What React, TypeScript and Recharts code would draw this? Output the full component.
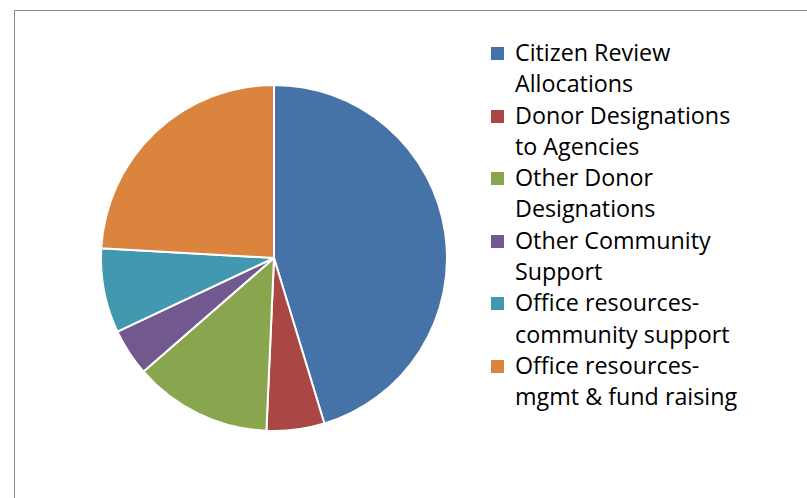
import { PieChart, Pie, Cell } from "recharts";

const categories = [
  "Citizen Review Allocations",
  "Donor Designations to Agencies",
  "Other Donor Designations",
  "Other Community Support",
  "Office resources- community support",
  "Office resources- mgmt & fund raising",
];

// legend text is wrapped onto two lines like the original
const legendLines = [
  ["Citizen Review", "Allocations"],
  ["Donor Designations", "to Agencies"],
  ["Other Donor", "Designations"],
  ["Other Community", "Support"],
  ["Office resources-", "community support"],
  ["Office resources-", "mgmt & fund raising"],
];

const shares = [45.3, 5.4, 12.9, 4.4, 7.9, 24.1];

const COLORS = ["#4572A7", "#AA4643", "#89A54E", "#71588F", "#4198AF", "#DB843D"];

const data = categories.map((name, i) => ({ name, value: shares[i] }));

function LegendBox() {
  return (
    <div
      style={{
        position: "absolute",
        left: 491,
        top: 37,
        fontFamily: "'Open Sans', sans-serif",
        fontSize: 23.3,
        color: "#000",
      }}
    >
      {legendLines.map((lines, i) => (
        <div key={i} style={{ display: "flex", alignItems: "flex-start" }}>
          <div
            style={{
              width: 13,
              height: 13,
              marginTop: 10,
              marginRight: 11,
              background: COLORS[i],
              flexShrink: 0,
            }}
          />
          <div style={{ lineHeight: "31.3px", whiteSpace: "nowrap" }}>
            {lines.map((l, j) => (
              <div key={j}>{l}</div>
            ))}
          </div>
        </div>
      ))}
    </div>
  );
}

export default function App() {
  return (
    <div style={{ position: "absolute", left: 0, top: 0, width: 807, height: 498, background: "#fff", overflow: "hidden" }}>
      <div
        style={{
          position: "absolute",
          left: 14,
          top: 10,
          width: 820,
          height: 520,
          border: "1px solid #8c8c8c",
        }}
      />
      <div style={{ position: "absolute", left: 0, top: 0 }}>
        <PieChart width={807} height={498} margin={{ top: 0, right: 0, bottom: 0, left: 0 }}>
          <Pie
            data={data}
            dataKey="value"
            nameKey="name"
            cx={274}
            cy={258}
            outerRadius={173}
            startAngle={90}
            endAngle={-270}
            stroke="#fff"
            strokeWidth={2}
            isAnimationActive={false}
          >
            {data.map((entry, index) => (
              <Cell key={`cell-${index}`} fill={COLORS[index % COLORS.length]} />
            ))}
          </Pie>
        </PieChart>
      </div>
      <LegendBox />
    </div>
  );
}
